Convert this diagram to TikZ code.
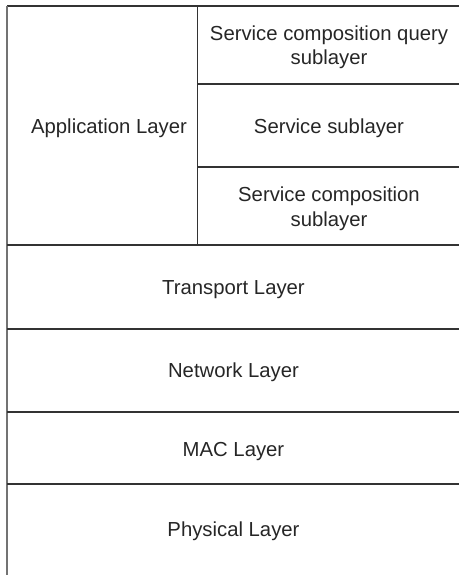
\documentclass[tikz,border=0pt]{standalone}
\usepackage{fontspec}
\setmainfont{Liberation Sans}
\begin{document}
\begin{tikzpicture}[x=1pt,y=-1pt,
  rule/.style={draw=black!80,line width=1.3pt},
  edge/.style={draw=black!55,line width=1.8pt},
  label/.style={font=\fontsize{20.3}{24.5}\selectfont,align=center,text=black!85,inner sep=0pt}]
  \useasboundingbox (0,0) rectangle (458,575);
  % frame corners and divisions
  \coordinate (tl) at (7,6);
  \coordinate (bl) at (7,575);
  \coordinate (tr) at (460,6);
  \coordinate (divt) at (197.5,6);
  \coordinate (divb) at (197.5,245);
  \coordinate (s1l) at (197.5,84);  \coordinate (s1r) at (460,84);
  \coordinate (s2l) at (197.5,167); \coordinate (s2r) at (460,167);
  \coordinate (h1l) at (7,245);     \coordinate (h1r) at (460,245);
  \coordinate (h2l) at (7,329);     \coordinate (h2r) at (460,329);
  \coordinate (h3l) at (7,412);     \coordinate (h3r) at (460,412);
  \coordinate (h4l) at (7,484);     \coordinate (h4r) at (460,484);
  \draw[rule] (tl) -- (tr);
  \draw[edge] (tl) -- (bl);
  \draw[rule] (divt) -- (divb);
  \draw[rule] (s1l) -- (s1r);
  \draw[rule] (s2l) -- (s2r);
  \draw[rule] (h1l) -- (h1r);
  \draw[rule] (h2l) -- (h2r);
  \draw[rule] (h3l) -- (h3r);
  \draw[rule] (h4l) -- (h4r);
  % layer names
  \node[label] (app) at (109,128.5) {Application Layer};
  \node[label] (scq) at (329,47.5) {Service composition query\\sublayer};
  \node[label] (ss) at (329,128.5) {Service sublayer};
  \node[label] (sc) at (329,208.5) {Service composition\\sublayer};
  \node[label] (tra) at (233.5,289.5) {Transport Layer};
  \node[label] (net) at (233.5,372.5) {Network Layer};
  \node[label] (mac) at (233.5,451.5) {MAC Layer};
  \node[label] (phy) at (233.5,531.5) {Physical Layer};
\end{tikzpicture}
\end{document}
